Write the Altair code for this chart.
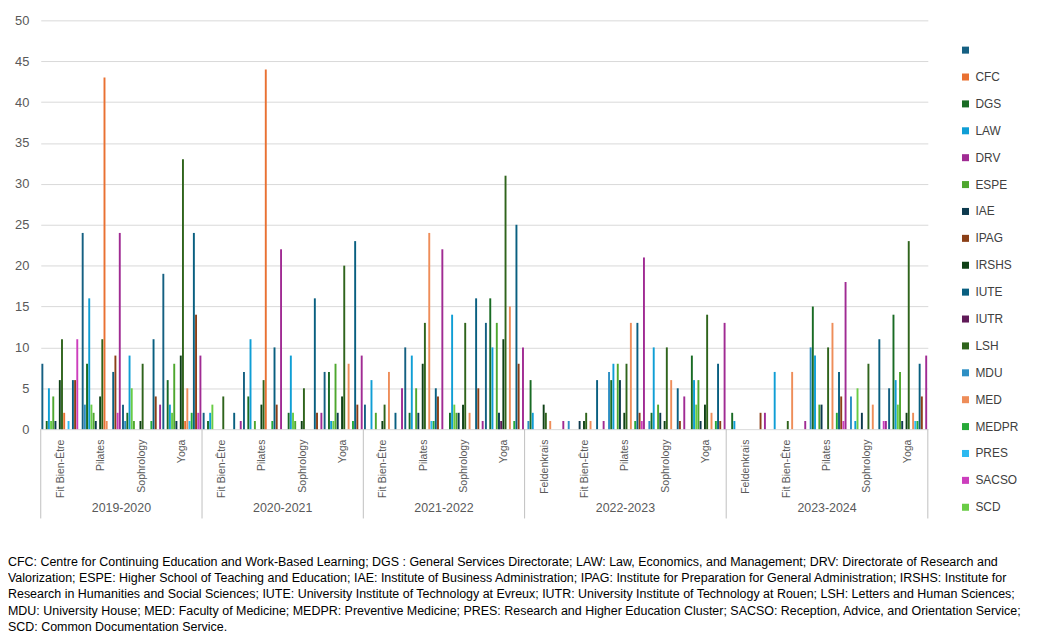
import altair as alt
import pandas as pd

_ = None

years = ["2019-2020", "2020-2021", "2021-2022", "2022-2023", "2023-2024"]
acts4 = ["Fit Bien-Être", "Pilates", "Sophrology", "Yoga"]
acts5 = ["Feldenkrais", "Fit Bien-Être", "Pilates", "Sophrology", "Yoga"]
activities = {
    "2019-2020": acts4,
    "2020-2021": acts4,
    "2021-2022": acts4,
    "2022-2023": acts5,
    "2023-2024": acts5,
}

# legend order and colours
series = [" ", "CFC", "DGS", "LAW", "DRV", "ESPE", "IAE", "IPAG", "IRSHS", "IUTE",
          "IUTR", "LSH", "MDU", "MED", "MEDPR", "PRES", "SACSO", "SCD"]
colors = ["#156082", "#E97132", "#196B24", "#0F9ED5", "#A02B93", "#4EA72E",
          "#0D3A4E", "#8B3F17", "#0F4016", "#095F80", "#601A58", "#2F641C",
          "#2D8FC4", "#EE8D59", "#27A938", "#2DB9F0", "#CC3EBD", "#69CC45"]

# order in which the series stand side by side inside each cluster (as seen in the picture)
plot_order = [" ", "MDU", "DGS", "LAW", "SCD", "ESPE", "IAE", "IUTR", "IRSHS", "LSH",
              "CFC", "MED", "PRES", "MEDPR", "IUTE", "IPAG", "SACSO", "DRV"]

# values per category, in plot_order (None = no bar)
v2019_fit = [8, _, 1, 5, 1, 4, 1, _, 6, 11, 2, _, 1, _, 6, 6, 11, _]
v2019_pil = [24, 3, 8, 16, 3, 2, 1, _, 4, 11, 43, 1, _, _, 7, 9, 2, 24]
v2019_sop = [3, 1, 2, 9, 5, 1, _, _, 1, 8, _, _, _, 1, 11, 4, _, 3]
v2019_yog = [19, _, 6, 3, 2, 8, 1, _, 9, 33, 1, 5, 1, 2, 24, 14, 2, 9]
v2020_fit = [2, _, 1, 2, 3, _, _, _, _, 4, _, _, _, _, 2, _, _, 1]
v2020_pil = [7, _, 4, 11, _, 1, _, _, 3, 6, 44, _, _, 1, 10, 3, _, 22]
v2020_sop = [_, _, 2, 9, 2, 1, _, _, 1, 5, _, _, _, _, 16, 2, _, 2]
v2020_yog = [7, _, 7, 1, 1, 8, 2, _, 4, 20, _, 8, _, 1, 23, 3, _, 9]
v2021_fit = [3, _, _, 6, _, 2, _, _, 1, 3, _, 7, _, _, 2, _, _, 5]
v2021_pil = [10, _, 2, 9, _, 5, 2, _, 8, 13, _, 24, 1, 1, 5, 4, _, 22]
v2021_sop = [_, _, 2, 14, 3, 2, 2, _, 3, 13, _, 2, _, _, 16, 5, _, 1]
v2021_yog = [13, _, 16, 10, _, 13, 2, 1, 11, 31, _, 15, _, 1, 25, 8, _, 10]
v2022_fel = [_, 1, 6, 2, _, _, _, _, 3, 2, _, 1, _, _, _, _, _, 1]
v2022_fit = [_, 1, _, _, _, _, 1, _, 1, 2, _, 1, _, _, 6, _, _, 1]
v2022_pil = [_, 7, 6, 8, _, 8, 6, _, 2, 8, _, 13, _, 1, 13, 2, 1, 21]
v2022_sop = [_, 1, 2, 10, _, 3, 2, _, 1, 10, _, 6, _, _, 5, 1, _, 4]
v2022_yog = [_, _, 9, 6, 3, 6, 1, _, 3, 14, _, 2, _, 1, 8, 1, _, 13]
v2023_fel = [_, _, 2, 1, _, _, _, _, _, _, _, _, _, _, _, 2, _, 2]
v2023_fit = [_, _, _, 7, _, _, _, _, _, 1, _, 7, _, _, _, _, _, 1]
v2023_pil = [_, 10, 15, 9, _, 3, 3, _, _, 10, _, 13, _, 2, 7, 4, 1, 18]
v2023_sop = [_, 4, _, 1, 5, _, 2, _, _, 8, _, 3, _, _, 11, _, 1, 1]
v2023_yog = [5, _, 14, 6, 3, 7, 1, _, 2, 23, _, 2, 1, 1, 8, 4, _, 9]

values = {
    "2019-2020": [v2019_fit, v2019_pil, v2019_sop, v2019_yog],
    "2020-2021": [v2020_fit, v2020_pil, v2020_sop, v2020_yog],
    "2021-2022": [v2021_fit, v2021_pil, v2021_sop, v2021_yog],
    "2022-2023": [v2022_fel, v2022_fit, v2022_pil, v2022_sop, v2022_yog],
    "2023-2024": [v2023_fel, v2023_fit, v2023_pil, v2023_sop, v2023_yog],
}

footnote = [
    "CFC: Centre for Continuing Education and Work-Based Learning; DGS : General Services Directorate; LAW: Law, Economics, and Management; DRV: Directorate of Research and",
    "Valorization; ESPE: Higher School of Teaching and Education; IAE: Institute of Business Administration; IPAG: Institute for Preparation for General Administration; IRSHS: Institute for",
    "Research in Humanities and Social Sciences; IUTE: University Institute of Technology at Evreux; IUTR: University Institute of Technology at Rouen; LSH: Letters and Human Sciences;",
    "MDU: University House; MED: Faculty of Medicine; MEDPR: Preventive Medicine; PRES: Research and Higher Education Cluster; SACSO: Reception, Advice, and Orientation Service;",
    "SCD: Common Documentation Service.",
]

# ---- tables built from the arrays ----
cat_keys = []
rows = []
for y in years:
    for act, arr in zip(activities[y], values[y]):
        key = f"{y}|{act}"
        cat_keys.append(key)
        for s, v in zip(plot_order, arr):
            if v is not None:
                rows.append({"cat": key, "series": s, "value": v})
df = pd.DataFrame(rows)

even_rows, odd_rows, start_rows = [], [], []
for y in years:
    keys = [f"{y}|{a}" for a in activities[y]]
    n = len(keys)
    start_rows.append({"cat": keys[0]})
    if n % 2 == 0:
        even_rows.append({"anchor": keys[n // 2 - 1], "year": y})
    else:
        odd_rows.append({"anchor": keys[n // 2], "year": y})
df_even = pd.DataFrame(even_rows)
df_odd = pd.DataFrame(odd_rows)
df_start = pd.DataFrame(start_rows)
df_end = pd.DataFrame([{"cat": cat_keys[-1]}])

W, H = 894, 412
FONT = "Liberation Sans"
GREY = "#595959"

xscale = alt.Scale(domain=cat_keys, paddingInner=0, paddingOuter=0)
xaxis = alt.Axis(title=None, labelExpr="split(datum.label, '|')[1]",
                 labelAngle=270, labelFontSize=10.6, labelColor=GREY,
                 labelFont=FONT, ticks=False, domain=False,
                 labelPadding=10, labelOverlap=False, grid=False)

bars = alt.Chart(df).mark_bar().encode(
    x=alt.X("cat:N", sort=cat_keys, scale=xscale, axis=xaxis),
    xOffset=alt.XOffset("series:N", sort=plot_order,
                        scale=alt.Scale(domain=plot_order, paddingInner=0.12, paddingOuter=0.3)),
    y=alt.Y("value:Q", scale=alt.Scale(domain=[0, 50], nice=False),
            axis=alt.Axis(title=None, values=list(range(0, 55, 5)), domain=False,
                          ticks=False, labelPadding=12, labelFontSize=13,
                          labelColor=GREY, labelFont=FONT, gridColor="#D9D9D9")),
    color=alt.Color("series:N", sort=series,
                    scale=alt.Scale(domain=series, range=colors),
                    legend=alt.Legend(title=None, orient="none", legendX=926, legendY=24,
                                      symbolType="square", symbolSize=50,
                                      symbolStrokeWidth=0, labelFontSize=12,
                                      labelFont=FONT, labelColor="#404040",
                                      rowPadding=15.1, labelLimit=120)),
)

year_even = alt.Chart(df_even).mark_text(fontSize=12.5, font=FONT, color=GREY,
                                         baseline="middle").encode(
    x=alt.X("anchor:N", bandPosition=1, scale=xscale, axis=xaxis),
    y=alt.value(H + 79),
    text="year:N",
)
year_odd = alt.Chart(df_odd).mark_text(fontSize=12.5, font=FONT, color=GREY,
                                       baseline="middle").encode(
    x=alt.X("anchor:N", bandPosition=0.5, scale=xscale, axis=xaxis),
    y=alt.value(H + 79),
    text="year:N",
)

sep_start = alt.Chart(df_start).mark_rule(color="#BFBFBF", strokeWidth=1).encode(
    x=alt.X("cat:N", bandPosition=0, scale=xscale, axis=xaxis),
    y=alt.value(H), y2=alt.value(H + 90),
)
sep_end = alt.Chart(df_end).mark_rule(color="#BFBFBF", strokeWidth=1).encode(
    x=alt.X("cat:N", bandPosition=1, scale=xscale, axis=xaxis),
    y=alt.value(H), y2=alt.value(H + 90),
)

chart = alt.layer(bars, sep_start, sep_end, year_even, year_odd).properties(
    width=W, height=H,
    autosize=alt.AutoSizeParams(type="none"),
    padding={"left": 33, "top": 10, "right": 105, "bottom": 206},
    background="white",
    title=alt.TitleParams(text=footnote, orient="bottom", anchor="start", frame="group",
                          dx=-33, offset=37, fontSize=12.55, font=FONT,
                          fontWeight="normal", color="#000000", lineHeight=16.5),
).configure_view(stroke=None)

chart.save("out.html", embed_options={"renderer": "svg", "actions": False})
